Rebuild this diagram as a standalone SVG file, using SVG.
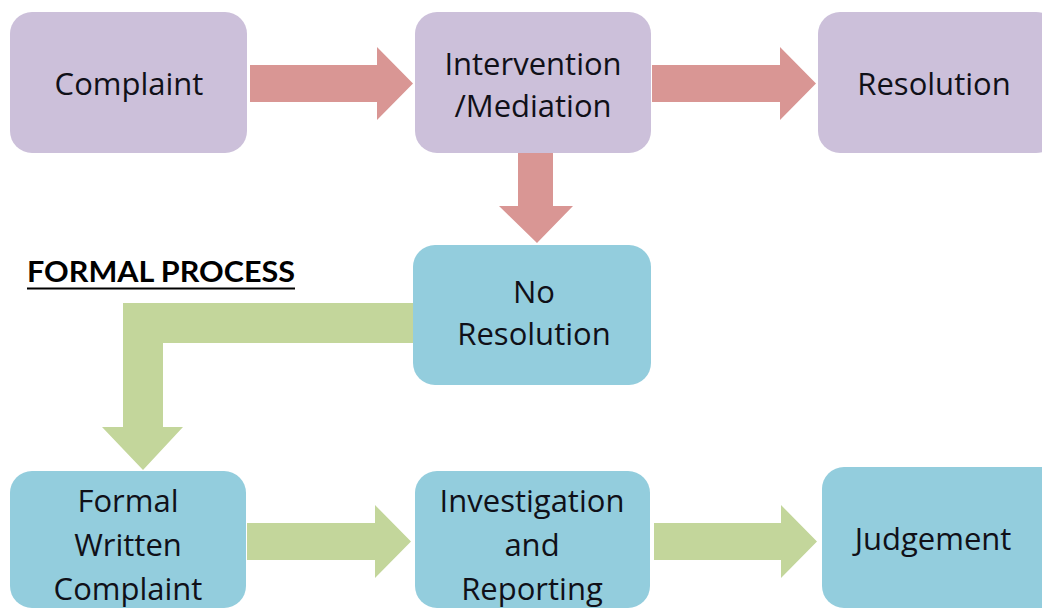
<svg xmlns="http://www.w3.org/2000/svg" width="1042" height="610" viewBox="0 0 1042 610">
  <style>
    .purple { fill: #CCC0DA; }
    .blue { fill: #93CDDD; }
    .red { fill: #D99694; }
    .green { fill: #C3D69B; }
    .lbl { font-family: "Open Sans", "Liberation Sans", sans-serif; font-size: 31px; fill: #101018; text-anchor: middle; }
    .title { font-family: "Lato", "Open Sans", "Liberation Sans", sans-serif; font-size: 28px; font-weight: bold; fill: #000; }
  </style>
  <rect width="1042" height="610" fill="#ffffff"/>

  <g id="connectors">
    <polygon class="red" points="250,65 377,65 377,47 413,83.5 377,120 377,102 250,102"/>
    <polygon class="red" points="652,65 780,65 780,47 816,83.5 780,120 780,102 652,102"/>
    <polygon class="red" points="518,153 553,153 553,206 573,206 537,243 499,206 518,206"/>
    <polygon class="green" points="413,303 123,303 123,427 102,427 143,470 183,427 163,427 163,343 413,343"/>
    <polygon class="green" points="247,523 375,523 375,505 411,541.5 375,578 375,560 247,560"/>
    <polygon class="green" points="654,523 781,523 781,505 817,541.5 781,578 781,560 654,560"/>
  </g>

  <g id="node-complaint">
    <rect class="purple" x="10" y="12" width="237" height="141" rx="22"/>
    <text class="lbl" x="129" y="95">Complaint</text>
  </g>
  <g id="node-intervention">
    <rect class="purple" x="415" y="12" width="236" height="141" rx="22"/>
    <text class="lbl" x="533" y="75">Intervention</text>
    <text class="lbl" x="533" y="117">/Mediation</text>
  </g>
  <g id="node-resolution">
    <rect class="purple" x="818" y="12" width="240" height="141" rx="22"/>
    <text class="lbl" x="934" y="95">Resolution</text>
  </g>
  <g id="node-no-resolution">
    <rect class="blue" x="413" y="245" width="238" height="140" rx="22"/>
    <text class="lbl" x="534" y="303">No</text>
    <text class="lbl" x="534" y="345">Resolution</text>
  </g>
  <g id="label-formal-process">
    <text class="title" x="27" y="282" textLength="268" lengthAdjust="spacingAndGlyphs">FORMAL PROCESS</text>
    <line x1="27" y1="288.5" x2="295" y2="288.5" stroke="#000" stroke-width="2"/>
  </g>
  <g id="node-formal-written">
    <rect class="blue" x="10" y="471" width="236" height="137" rx="22"/>
    <text class="lbl" x="128" y="512">Formal</text>
    <text class="lbl" x="128" y="556">Written</text>
    <text class="lbl" x="128" y="600">Complaint</text>
  </g>
  <g id="node-investigation">
    <rect class="blue" x="415" y="471" width="235" height="137" rx="22"/>
    <text class="lbl" x="532" y="512">Investigation</text>
    <text class="lbl" x="532" y="556">and</text>
    <text class="lbl" x="532" y="600">Reporting</text>
  </g>
  <g id="node-judgement">
    <rect class="blue" x="822" y="467" width="240" height="141" rx="22"/>
    <text class="lbl" x="933" y="550">Judgement</text>
  </g>
</svg>
